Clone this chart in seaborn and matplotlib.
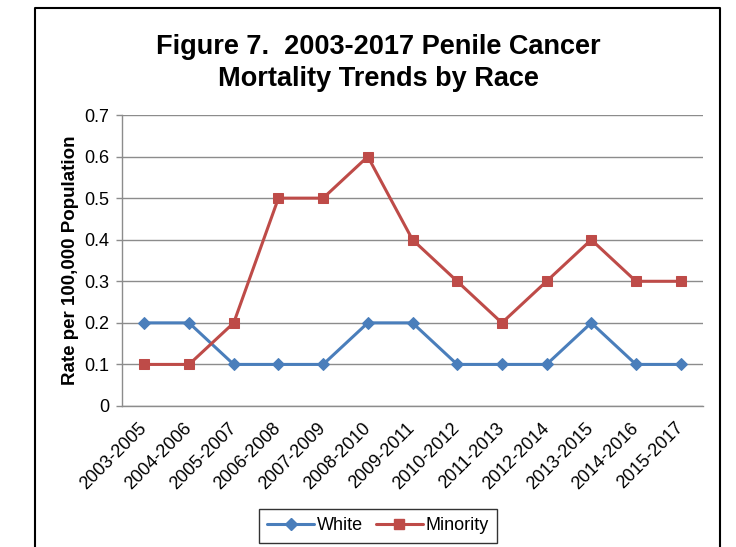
import matplotlib
matplotlib.use("Agg")
import matplotlib.pyplot as plt
import seaborn as sns
import pandas as pd
from matplotlib.lines import Line2D

periods = ["2003-2005", "2004-2006", "2005-2007", "2006-2008", "2007-2009",
           "2008-2010", "2009-2011", "2010-2012", "2011-2013", "2012-2014",
           "2013-2015", "2014-2016", "2015-2017"]
white = [0.2, 0.2, 0.1, 0.1, 0.1, 0.2, 0.2, 0.1, 0.1, 0.1, 0.2, 0.1, 0.1]
minority = [0.1, 0.1, 0.2, 0.5, 0.5, 0.6, 0.4, 0.3, 0.2, 0.3, 0.4, 0.3, 0.3]
yticks = [0, 0.1, 0.2, 0.3, 0.4, 0.5, 0.6, 0.7]
ytick_labels = ["0", "0.1", "0.2", "0.3", "0.4", "0.5", "0.6", "0.7"]

sns.set_style("white")
plt.rcParams['font.family'] = ['Liberation Sans', 'DejaVu Sans']
plt.rcParams['text.color'] = 'black'
plt.rcParams['axes.labelcolor'] = 'black'

df = pd.DataFrame({
    "idx": list(range(len(periods))) * 2,
    "rate": white + minority,
    "race": ["White"] * len(periods) + ["Minority"] * len(periods),
})

colors = {"White": "#4A7EBB", "Minority": "#BE4B48"}
markers = {"White": "D", "Minority": "s"}
msize = {"White": 6, "Minority": 7}

fig = plt.figure(figsize=(7.36, 5.47), dpi=100)
ax = fig.add_axes([122/736, 1-406/547, (703-122)/736, (406-115)/547])

for race in ["White", "Minority"]:
    sub = df[df.race == race]
    sns.lineplot(data=sub, x="idx", y="rate", ax=ax, color=colors[race],
                 marker=markers[race], markersize=msize[race],
                 markeredgecolor=colors[race], linewidth=2.2, sort=False,
                 legend=False)

ax.set_xlim(-0.5, len(periods) - 0.5)
ax.set_ylim(0, 0.7)
ax.set_yticks(yticks)
ax.set_yticklabels(ytick_labels, fontsize=13)
ax.set_xticks(range(len(periods)))
ax.set_xticklabels(periods, rotation=45, ha="right", va="center",
                   rotation_mode="anchor", fontsize=13)
ax.set_xticks([i - 0.5 for i in range(len(periods) + 1)], minor=True)
ax.tick_params(axis="x", which="major", length=0, pad=14, labelcolor="black")
ax.tick_params(axis="x", which="minor", length=5, color="#8C8C8C", width=1)
ax.tick_params(axis="y", length=4, color="#8C8C8C", width=1, pad=5, left=True,
               labelcolor="black")
ax.set_xlabel("")
ax.set_ylabel("Rate per 100,000 Population", fontsize=13.5, fontweight="bold",
              labelpad=4)
ax.yaxis.grid(True, color="#8C8C8C", linewidth=1)
ax.xaxis.grid(False)
for s in ["top", "right"]:
    ax.spines[s].set_visible(False)
for s in ["left", "bottom"]:
    ax.spines[s].set_color("#8C8C8C")
    ax.spines[s].set_linewidth(1)

fig.text(378/736, 1-63/547, "Figure 7.  2003-2017 Penile Cancer\nMortality Trends by Race",
         ha="center", va="center", fontsize=19.5, fontweight="bold",
         linespacing=1.35)

handles = [Line2D([], [], color=colors[r], marker=markers[r], linewidth=2.2,
                  markersize=msize[r]) for r in ["White", "Minority"]]
leg = fig.legend(handles, ["White", "Minority"], loc="center",
                 bbox_to_anchor=(378/736, 1-526/547), ncol=2, fontsize=13,
                 frameon=True, fancybox=False, handlelength=2.6,
                 columnspacing=0.7, handletextpad=0.15, borderpad=0.45)
leg.get_frame().set_edgecolor("black")
leg.get_frame().set_linewidth(1)

# figure border
x0, x1, ytop = 35/736, 720/736, 1-8/547
fig.add_artist(Line2D([x0, x0, x1, x1], [0, ytop, ytop, 0], transform=fig.transFigure,
                      color="black", linewidth=1.5))

fig.savefig("out.png", dpi=100)
